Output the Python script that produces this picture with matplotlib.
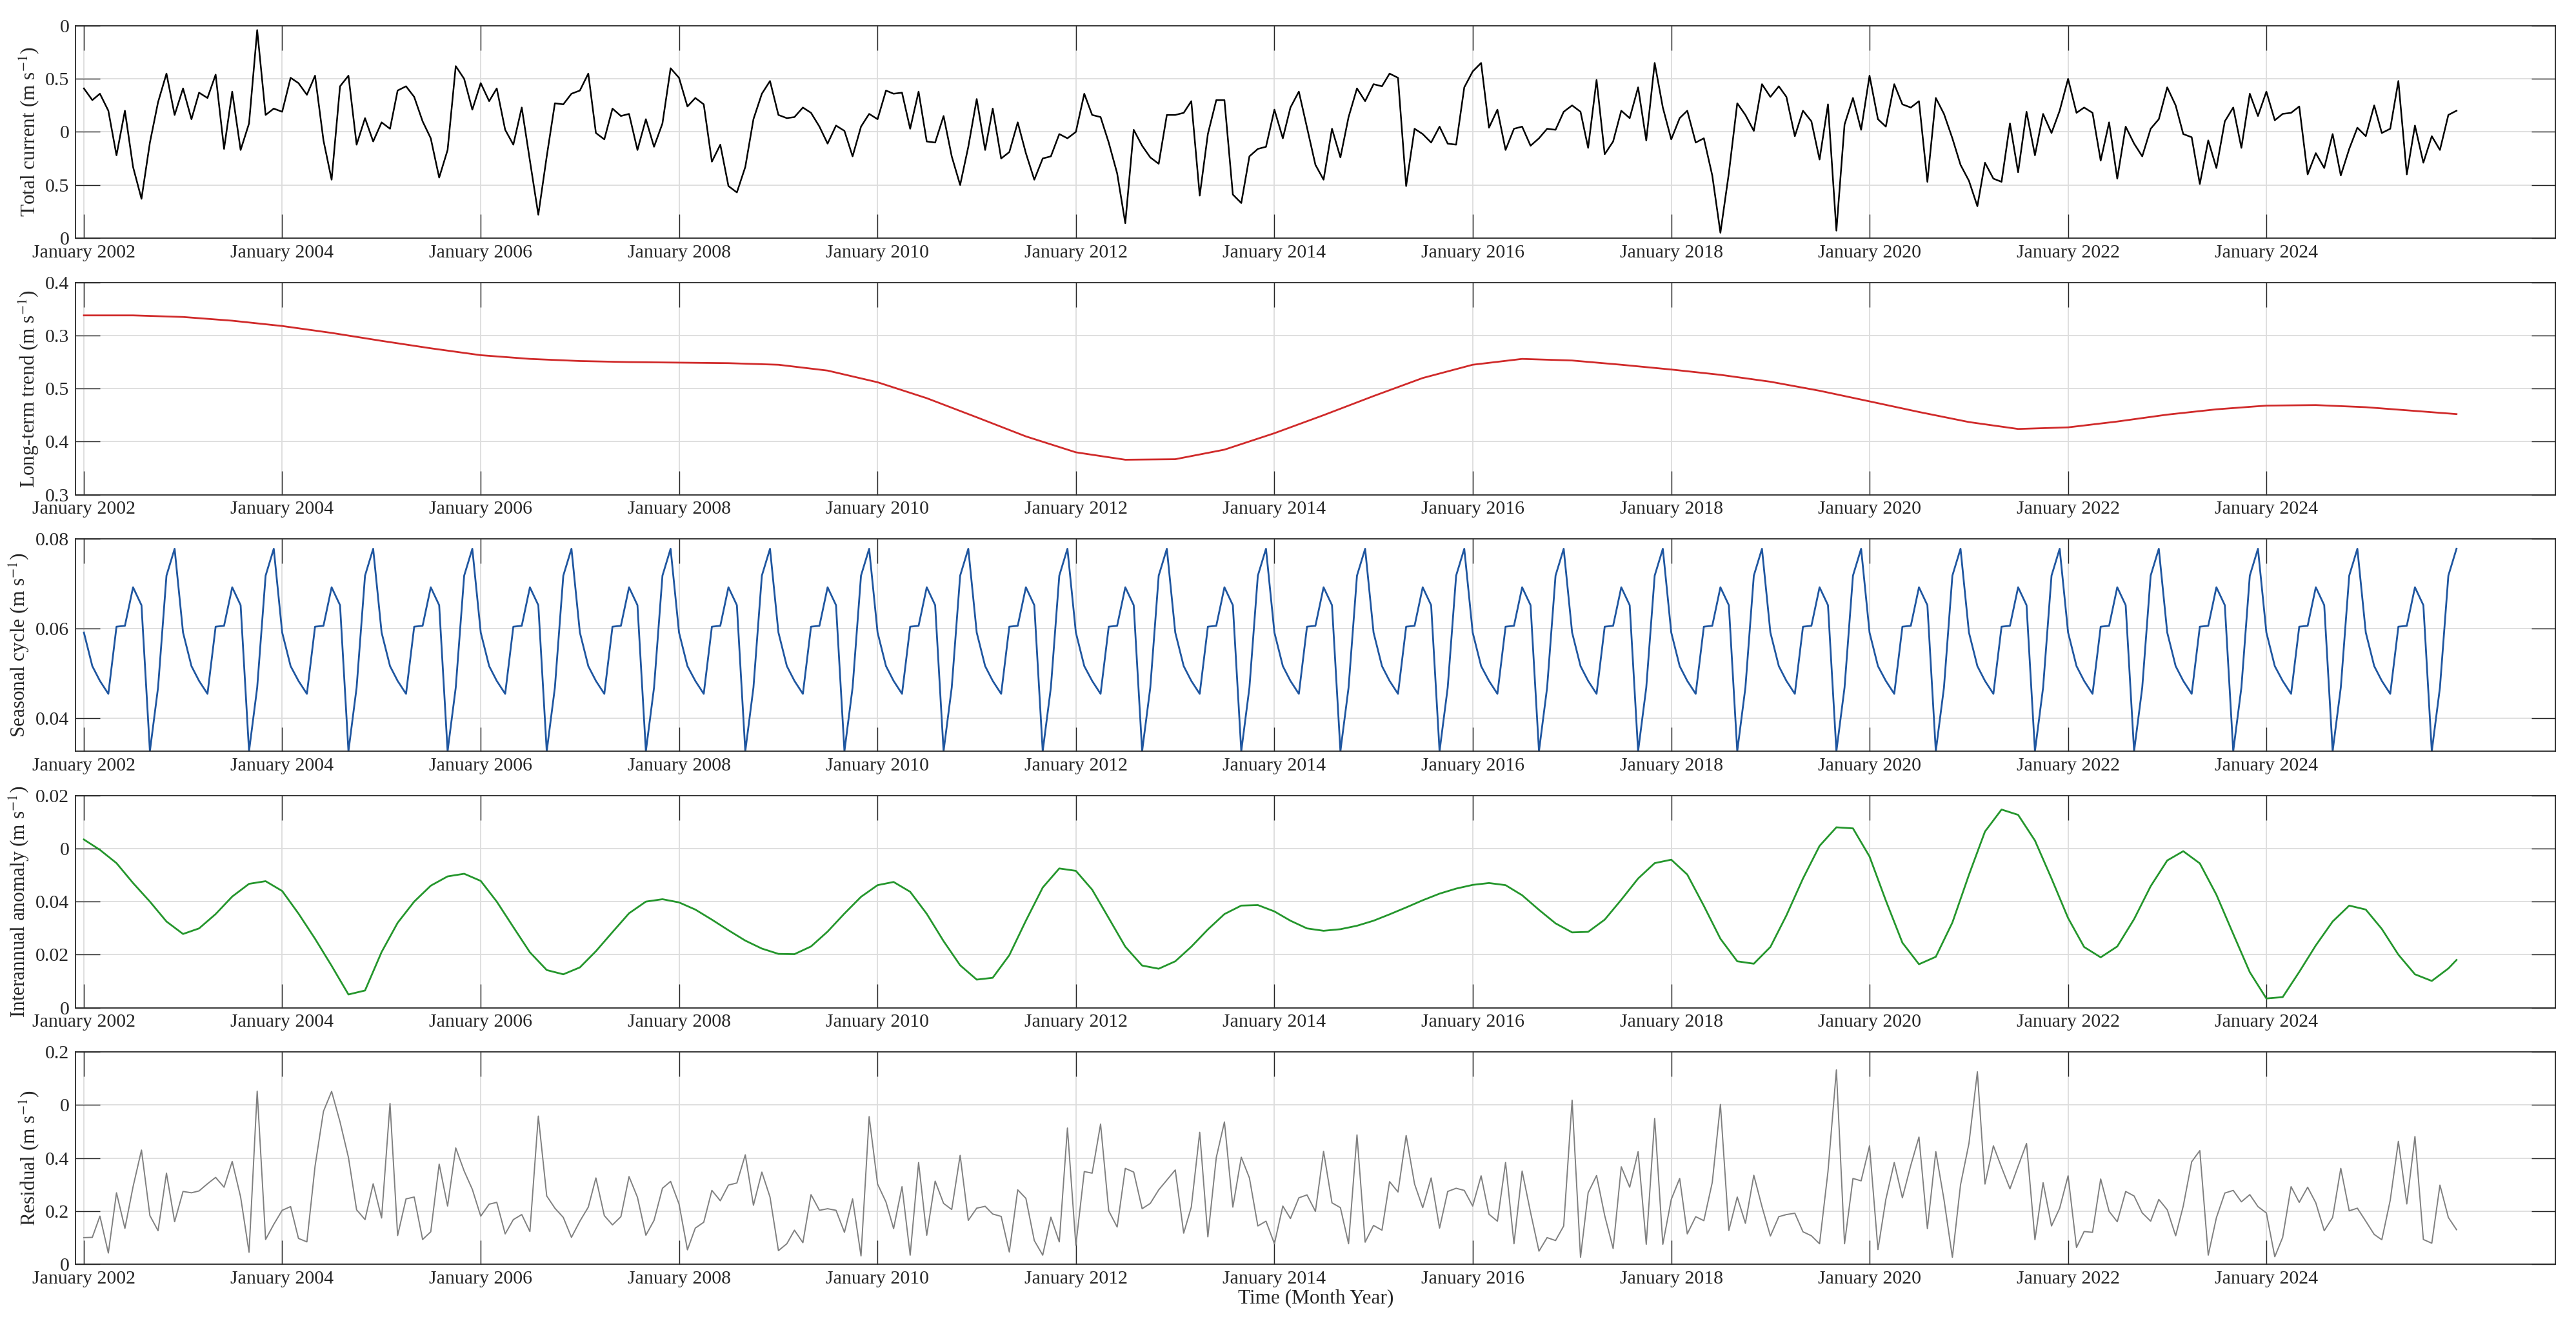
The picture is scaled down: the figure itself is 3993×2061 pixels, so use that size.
import numpy as np
import pandas as pd
import matplotlib
matplotlib.use('Agg')
import matplotlib.pyplot as plt
import matplotlib.dates as mdates

plt.rcParams['font.family'] = ['Liberation Serif', 'DejaVu Serif']
plt.rcParams['mathtext.fontset'] = 'stix'

# monthly time axis, Jan 2002 - Dec 2025
months = pd.date_range('2002-01-01', periods=288, freq='MS')

total_current = [
    0.41, 0.30, 0.36, 0.20, -0.22, 0.20, -0.33, -0.63, -0.10, 0.28, 0.55, 0.16,
    0.41, 0.12, 0.37, 0.32, 0.54, -0.16, 0.38, -0.17, 0.08, 0.96, 0.16, 0.22,
    0.19, 0.51, 0.46, 0.35, 0.53, -0.08, -0.45, 0.43, 0.53, -0.12, 0.13, -0.09,
    0.09, 0.03, 0.39, 0.43, 0.33, 0.10, -0.06, -0.43, -0.17, 0.62, 0.50, 0.21,
    0.46, 0.29, 0.41, 0.02, -0.12, 0.23, -0.27, -0.78, -0.23, 0.27, 0.26, 0.36,
    0.39, 0.55, -0.01, -0.07, 0.22, 0.15, 0.17, -0.17, 0.12, -0.14, 0.08, 0.60,
    0.51, 0.24, 0.32, 0.26, -0.28, -0.12, -0.51, -0.57, -0.33, 0.12, 0.36, 0.48,
    0.16, 0.13, 0.14, 0.23, 0.18, 0.05, -0.11, 0.06, 0.01, -0.23, 0.05, 0.17,
    0.12, 0.39, 0.36, 0.37, 0.03, 0.38, -0.09, -0.10, 0.15, -0.23, -0.50, -0.14,
    0.31, -0.17, 0.22, -0.25, -0.19, 0.09, -0.20, -0.45, -0.25, -0.23, -0.02, -0.06,
    0.00, 0.36, 0.16, 0.14, -0.10, -0.39, -0.86, 0.02, -0.13, -0.24, -0.30, 0.16,
    0.16, 0.18, 0.29, -0.60, -0.02, 0.30, 0.30, -0.59, -0.67, -0.23, -0.16, -0.14,
    0.21, -0.06, 0.23, 0.38, 0.04, -0.31, -0.45, 0.03, -0.24, 0.14, 0.41, 0.29,
    0.45, 0.43, 0.55, 0.51, -0.51, 0.03, -0.02, -0.10, 0.05, -0.11, -0.12, 0.42,
    0.57, 0.65, 0.04, 0.21, -0.17, 0.03, 0.05, -0.13, -0.06, 0.03, 0.02, 0.19,
    0.25, 0.19, -0.15, 0.49, -0.21, -0.09, 0.20, 0.13, 0.42, -0.08, 0.65, 0.23,
    -0.07, 0.13, 0.20, -0.10, -0.06, -0.41, -0.95, -0.39, 0.27, 0.16, 0.01, 0.45,
    0.33, 0.43, 0.33, -0.04, 0.20, 0.10, -0.26, 0.26, -0.93, 0.07, 0.32, 0.02,
    0.53, 0.12, 0.05, 0.45, 0.26, 0.23, 0.29, -0.47, 0.32, 0.17, -0.06, -0.31,
    -0.46, -0.70, -0.29, -0.44, -0.47, 0.08, -0.38, 0.19, -0.22, 0.17, -0.01, 0.20,
    0.50, 0.18, 0.23, 0.18, -0.27, 0.09, -0.44, 0.05, -0.11, -0.23, 0.03, 0.12,
    0.42, 0.25, -0.02, -0.05, -0.49, -0.08, -0.34, 0.10, 0.23, -0.15, 0.36, 0.15,
    0.38, 0.11, 0.17, 0.18, 0.24, -0.40, -0.20, -0.34, -0.02, -0.41, -0.16, 0.04,
    -0.04, 0.25, -0.01, 0.03, 0.48, -0.40, 0.06, -0.29, -0.04, -0.17, 0.16, 0.20,
]

# long-term trend, read every 6 months (+ last month)
trend_months = list(range(0, 288, 6)) + [287]
trend = [
    0.338, 0.338, 0.335, 0.328, 0.318, 0.305, 0.290, 0.276, 0.263, 0.256,
    0.252, 0.250, 0.249, 0.248, 0.245, 0.234, 0.212, 0.182, 0.146, 0.110,
    0.080, 0.066, 0.067, 0.085, 0.116, 0.150, 0.186, 0.220, 0.245, 0.256,
    0.253, 0.245, 0.236, 0.226, 0.213, 0.196, 0.176, 0.156, 0.137, 0.124,
    0.127, 0.138, 0.151, 0.161, 0.168, 0.169, 0.165, 0.158, 0.152,
]

# seasonal climatology Jan..Dec, repeated every year
seasonal_clim = [0.0591, 0.0516, 0.0483, 0.0454, 0.0604, 0.0606,
                 0.0692, 0.0652, 0.0326, 0.0468, 0.0718, 0.0778]
seasonal = np.tile(seasonal_clim, 24)

# interannual anomaly, read every 2 months (+ last month)
anomaly_months = list(range(0, 288, 2)) + [287]
anomaly = [
    0.0634, 0.0595, 0.0545, 0.0470, 0.0400, 0.0325, 0.0278, 0.0299, 0.0353, 0.0419, 0.0467, 0.0477,
    0.0440, 0.0355, 0.0260, 0.0158, 0.0050, 0.0065, 0.0210, 0.0320, 0.0400, 0.0460, 0.0495, 0.0505,
    0.0478, 0.0400, 0.0304, 0.0209, 0.0142, 0.0126, 0.0152, 0.0213, 0.0285, 0.0356, 0.0400, 0.0409,
    0.0397, 0.0370, 0.0332, 0.0292, 0.0253, 0.0223, 0.0203, 0.0202, 0.0231, 0.0287, 0.0355, 0.0418,
    0.0462, 0.0474, 0.0437, 0.0354, 0.0251, 0.0160, 0.0106, 0.0113, 0.0198, 0.0328, 0.0453, 0.0525,
    0.0516, 0.0445, 0.0338, 0.0230, 0.0159, 0.0147, 0.0175, 0.0230, 0.0295, 0.0353, 0.0385, 0.0387,
    0.0363, 0.0328, 0.0299, 0.0290, 0.0296, 0.0309, 0.0328, 0.0352, 0.0378, 0.0405, 0.0430, 0.0449,
    0.0463, 0.0470, 0.0462, 0.0424, 0.0369, 0.0318, 0.0284, 0.0286, 0.0332, 0.0407, 0.0487, 0.0545,
    0.0558, 0.0502, 0.0384, 0.0260, 0.0175, 0.0166, 0.0229, 0.0348, 0.0487, 0.0610, 0.0680, 0.0676,
    0.0570, 0.0404, 0.0245, 0.0164, 0.0192, 0.0321, 0.0501, 0.0664, 0.0747, 0.0727, 0.0630, 0.0487,
    0.0338, 0.0229, 0.0190, 0.0231, 0.0334, 0.0458, 0.0555, 0.0590, 0.0544, 0.0426, 0.0278, 0.0134,
    0.0035, 0.0040, 0.0135, 0.0235, 0.0325, 0.0385, 0.0370, 0.0297, 0.0200, 0.0126, 0.0101, 0.0148,
    0.0180,
]

residual = [
    0.100, 0.101, 0.181, 0.042, 0.269, 0.135, 0.292, 0.430, 0.183, 0.126, 0.343, 0.160,
    0.274, 0.269, 0.276, 0.303, 0.327, 0.290, 0.387, 0.253, 0.045, 0.652, 0.093, 0.150,
    0.203, 0.217, 0.097, 0.084, 0.369, 0.576, 0.651, 0.536, 0.402, 0.205, 0.168, 0.303,
    0.174, 0.606, 0.108, 0.246, 0.253, 0.093, 0.122, 0.377, 0.219, 0.438, 0.351, 0.282,
    0.181, 0.226, 0.233, 0.114, 0.168, 0.187, 0.123, 0.558, 0.257, 0.211, 0.176, 0.101,
    0.162, 0.215, 0.325, 0.183, 0.148, 0.179, 0.330, 0.252, 0.109, 0.165, 0.286, 0.312,
    0.227, 0.054, 0.136, 0.158, 0.278, 0.239, 0.298, 0.306, 0.412, 0.222, 0.347, 0.253,
    0.051, 0.077, 0.128, 0.081, 0.262, 0.203, 0.209, 0.203, 0.120, 0.246, 0.031, 0.556,
    0.302, 0.234, 0.134, 0.292, 0.034, 0.383, 0.109, 0.313, 0.229, 0.206, 0.410, 0.165,
    0.211, 0.218, 0.189, 0.180, 0.046, 0.280, 0.248, 0.089, 0.034, 0.177, 0.084, 0.513,
    0.071, 0.349, 0.343, 0.528, 0.201, 0.140, 0.361, 0.347, 0.209, 0.229, 0.280, 0.317,
    0.355, 0.117, 0.215, 0.497, 0.103, 0.402, 0.536, 0.215, 0.403, 0.325, 0.144, 0.162,
    0.077, 0.219, 0.172, 0.250, 0.261, 0.199, 0.425, 0.231, 0.213, 0.077, 0.487, 0.083,
    0.146, 0.128, 0.311, 0.272, 0.485, 0.302, 0.213, 0.325, 0.136, 0.274, 0.286, 0.278,
    0.219, 0.333, 0.188, 0.162, 0.383, 0.077, 0.351, 0.195, 0.049, 0.100, 0.089, 0.144,
    0.618, 0.026, 0.269, 0.334, 0.183, 0.059, 0.367, 0.290, 0.424, 0.075, 0.549, 0.075,
    0.244, 0.323, 0.114, 0.179, 0.164, 0.308, 0.602, 0.127, 0.253, 0.154, 0.335, 0.217,
    0.106, 0.179, 0.187, 0.192, 0.122, 0.107, 0.077, 0.349, 0.732, 0.077, 0.323, 0.314,
    0.446, 0.055, 0.244, 0.383, 0.250, 0.373, 0.479, 0.134, 0.424, 0.244, 0.026, 0.299,
    0.455, 0.725, 0.302, 0.446, 0.365, 0.284, 0.369, 0.455, 0.092, 0.307, 0.144, 0.211,
    0.333, 0.063, 0.123, 0.120, 0.321, 0.199, 0.160, 0.274, 0.257, 0.193, 0.162, 0.244,
    0.205, 0.107, 0.219, 0.386, 0.428, 0.034, 0.175, 0.268, 0.278, 0.235, 0.262, 0.217,
    0.193, 0.028, 0.101, 0.292, 0.233, 0.290, 0.231, 0.126, 0.176, 0.361, 0.201, 0.211,
    0.162, 0.112, 0.092, 0.241, 0.463, 0.227, 0.481, 0.093, 0.079, 0.298, 0.176, 0.130,
]

# y tick positions and the labels as printed on the original figure
total_ticks = [-1.0, -0.5, 0.0, 0.5, 1.0]
total_labels = ['0', '0.5', '0', '0.5', '0']
trend_ticks = [0.0, 0.1, 0.2, 0.3, 0.4]
trend_labels = ['0.3', '0.4', '0.5', '0.3', '0.4']
seasonal_ticks = [0.04, 0.06, 0.08]
seasonal_labels = ['0.04', '0.06', '0.08']
anomaly_ticks = [0.0, 0.02, 0.04, 0.06, 0.08]
anomaly_labels = ['0', '0.02', '0.04', '0', '0.02']
residual_ticks = [0.0, 0.2, 0.4, 0.6, 0.8]
residual_labels = ['0', '0.2', '0.4', '0', '0.2']

x_tick_years = list(range(2002, 2025, 2))

panels = [
    (months, total_current, 'Total current (m s$^{-1}$)', 'black', 1.8,
     (-1.0, 1.0), total_ticks, total_labels),
    (months[trend_months], trend, 'Long-term trend (m s$^{-1}$)', '#d02a2a', 2.0,
     (0.0, 0.4), trend_ticks, trend_labels),
    (months, seasonal, 'Seasonal cycle (m s$^{-1}$)', '#1f56a0', 2.0,
     (0.0326, 0.08), seasonal_ticks, seasonal_labels),
    (months[anomaly_months], anomaly, 'Interannual anomaly (m s$^{-1}$)', '#24962c', 2.0,
     (0.0, 0.08), anomaly_ticks, anomaly_labels),
    (months, residual, 'Residual (m s$^{-1}$)', '#808080', 1.4,
     (0.0, 0.8), residual_ticks, residual_labels),
]

fig = plt.figure(figsize=(39.93, 20.61), dpi=100)
bottoms = [0.8210, 0.6280, 0.4352, 0.2423, 0.0495]
axc = '#262626'

for (x, y, label, color, lw, ylim, ticks, labels), b in zip(panels, bottoms):
    ax = fig.add_axes([0.0293, b, 0.9628, 0.1596])
    ax.plot(x, y, color=color, linewidth=lw)
    ax.set_xlim(pd.Timestamp('2001-12-01'), pd.Timestamp('2026-12-01'))
    ax.set_ylim(*ylim)
    ax.set_yticks(ticks)
    ax.set_yticklabels(labels)
    ax.set_xticks([pd.Timestamp(f'{yr}-01-01') for yr in x_tick_years])
    ax.xaxis.set_major_formatter(mdates.DateFormatter('%B %Y'))
    ax.grid(True, color='#dcdcdc', linewidth=1.3)
    ax.set_axisbelow(True)
    ax.tick_params(axis='both', direction='in', length=27, width=1.0, color=axc,
                   top=True, right=True, labelsize=21.5, labelcolor=axc, pad=7)
    for s in ax.spines.values():
        s.set_color(axc)
        s.set_linewidth(1.3)
    ax.set_ylabel(label, fontsize=22.5, color=axc, labelpad=4)

ax.set_xlabel('Time (Month Year)', fontsize=22.5, color=axc, labelpad=2)

fig.savefig('out.png', dpi=100, facecolor='white')
